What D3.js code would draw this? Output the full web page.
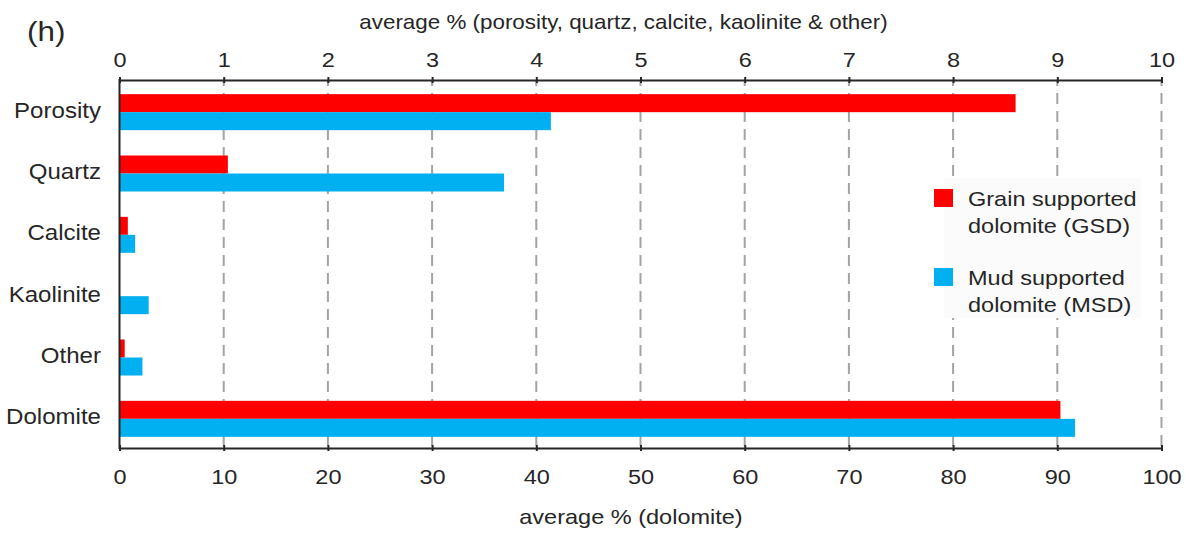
<!DOCTYPE html>
<html>
<head>
<meta charset="utf-8">
<script src="https://cdn.jsdelivr.net/npm/d3@7"></script>
<style>
  html, body { margin: 0; padding: 0; background: #ffffff; }
  svg { display: block; font-family: "Liberation Sans", Arial, Helvetica, sans-serif; }
  text { fill: #262626; }
</style>
</head>
<body>
<svg id="chart" width="1192" height="536"></svg>
<script>
// Mineralogy categories, top to bottom
const categories = ["Porosity", "Quartz", "Calcite", "Kaolinite", "Other", "Dolomite"];
// Average % for grain supported dolomite (GSD); Dolomite row is read on the 0-100 axis
const gsdValues = [8.60, 1.04, 0.08, 0, 0.05, 90.3];
// Average % for mud supported dolomite (MSD)
const msdValues = [4.14, 3.69, 0.15, 0.28, 0.22, 91.7];
const seriesNames = ["Grain supported dolomite (GSD)", "Mud supported dolomite (MSD)"];
const legendLines = [["Grain supported", "dolomite (GSD)"], ["Mud supported", "dolomite (MSD)"]];
const topTicks = [0, 1, 2, 3, 4, 5, 6, 7, 8, 9, 10];
const bottomTicks = [0, 10, 20, 30, 40, 50, 60, 70, 80, 90, 100];
const topTitle = "average % (porosity, quartz, calcite, kaolinite & other)";
const bottomTitle = "average % (dolomite)";
const panelLabel = "(h)";

const colors = ["#ff0000", "#00b0f0"];
const ink = "#262626";
const stretch = 1.12;   // glyphs in this figure are set slightly wide
const fontSize = 21;

const svg = d3.select("#chart");
const plotLeft = 119.5, plotRight = 1161.5, plotTop = 80, plotBottom = 448;

const xTop = d3.scaleLinear().domain([0, 10]).range([plotLeft, plotRight]);
const xBottom = d3.scaleLinear().domain([0, 100]).range([plotLeft, plotRight]);
const y = d3.scaleBand().domain(categories).range([plotTop + 1.5, plotBottom + 1.5])
  .paddingInner(0.413).paddingOuter(0.2065);
const ySub = d3.scaleBand().domain([0, 1]).range([0, y.bandwidth()]);

function wideText(sel, x, yPos, str, anchor, size) {
  return sel.append("text")
    .attr("transform", `translate(${x},${yPos}) scale(${stretch},1)`)
    .attr("text-anchor", anchor || "start")
    .attr("font-size", size || fontSize)
    .text(str);
}

// dashed gridlines at every top-axis tick except zero
svg.append("g").selectAll("line")
  .data(topTicks.filter(d => d > 0))
  .join("line")
  .attr("x1", d => xTop(d)).attr("x2", d => xTop(d))
  .attr("y1", plotTop).attr("y2", plotBottom)
  .attr("stroke", "#a3a3a3").attr("stroke-width", 2)
  .attr("stroke-dasharray", "11,7").attr("stroke-dashoffset", 5);

// bars
const rows = categories.map((c, i) => ({ cat: c, vals: [gsdValues[i], msdValues[i]] }));
const barG = svg.append("g");
rows.forEach(r => {
  const sx = r.cat === "Dolomite" ? xBottom : xTop;
  barG.selectAll(null)
    .data(r.vals.map((v, k) => ({ v, k })))
    .join("rect")
    .attr("x", sx(0))
    .attr("y", d => y(r.cat) + ySub(d.k))
    .attr("width", d => sx(d.v) - sx(0))
    .attr("height", ySub.bandwidth())
    .attr("fill", d => colors[d.k]);
});

// legend with off-white backing
const legend = svg.append("g");
legend.append("rect").attr("x", 944).attr("y", 178).attr("width", 197).attr("height", 140)
  .attr("fill", "#fbfbfb");
seriesNames.forEach((name, k) => {
  const oy = 189 + k * 79;
  legend.append("rect").attr("x", 934).attr("y", oy).attr("width", 19).attr("height", 18)
    .attr("fill", colors[k]);
  legendLines[k].forEach((ln, j) => wideText(legend, 968, oy + 17 + j * 27, ln, "start"));
});

// axes
function styleAxis(g, labelDy) {
  g.select(".domain").attr("stroke", ink).attr("stroke-width", 2);
  g.selectAll(".tick line").attr("stroke", ink).attr("stroke-width", 2)
    .attr("y1", -3).attr("y2", 3);
  g.selectAll(".tick text")
    .attr("fill", ink).attr("font-size", fontSize)
    .attr("font-family", '"Liberation Sans", Arial, sans-serif')
    .attr("y", labelDy).attr("dy", null)
    .attr("transform", `scale(${stretch},1)`);
}
const gTop = svg.append("g").attr("transform", `translate(0,${plotTop})`)
  .call(d3.axisTop(xTop).tickValues(topTicks).tickSizeOuter(0).tickFormat(d3.format("d")));
styleAxis(gTop, -13);

const gBottom = svg.append("g").attr("transform", `translate(0,${plotBottom})`)
  .call(d3.axisBottom(xBottom).tickValues(bottomTicks).tickSizeOuter(0).tickFormat(d3.format("d")));
styleAxis(gBottom, 36);

svg.append("line").attr("x1", plotLeft).attr("x2", plotLeft).attr("y1", plotTop - 1).attr("y2", plotBottom + 1)
  .attr("stroke", ink).attr("stroke-width", 2);

// category labels
categories.forEach(c => wideText(svg, 101, y(c) + y.bandwidth() / 2 + 5.5, c, "end", 21.5));

// titles
wideText(svg, 623.5, 29, topTitle, "middle", 20);
wideText(svg, 631, 524, bottomTitle, "middle");
wideText(svg, 27, 41, panelLabel, "start", 28);
</script>
</body>
</html>
